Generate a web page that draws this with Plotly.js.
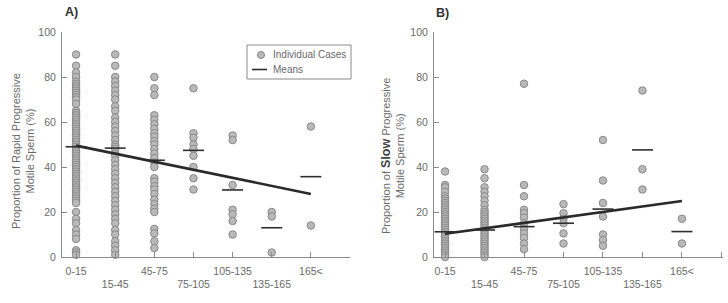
<!DOCTYPE html>
<html>
<head>
<meta charset="utf-8">
<script src="https://cdn.plot.ly/plotly-3.0.1.min.js"></script>
<style>
  html, body { margin: 0; padding: 0; background: #ffffff; }
  #chart { width: 728px; height: 303px; }
</style>
</head>
<body>
<div id="chart"></div>
<script>
// Abstinence period groups (hours)
const ageGroups = ['0-15', '15-45', '45-75', '75-105', '105-135', '135-165', '165<'];

// Individual cases, rapid progressive motility (%), one list per group
const rapidCases = [
  [90, 85, 82, 80, 78, 77, 76, 75, 74, 73, 72, 71, 70, 68, 65, 64, 63, 62, 61, 60, 59, 58, 57, 56, 55, 54, 53, 52, 51, 50, 49, 48, 47, 46, 45, 44, 43, 42, 41, 40, 39, 38, 37, 36, 35, 34, 33, 32, 31, 30, 29, 28, 27, 26, 25, 24, 20, 17, 15, 12, 10, 8, 3, 2, 1],
  [90, 85, 80, 78, 76, 74, 72, 70, 67, 65, 62, 60, 58, 56, 54, 52, 50, 49, 48, 46, 45, 43, 41, 39, 37, 35, 33, 31, 29, 27, 25, 23, 21, 19, 17, 15, 12, 10, 7, 5, 3, 1],
  [80, 75, 72, 63, 61, 59, 57, 55, 53.5, 51.5, 50, 48, 46, 44, 42, 40, 35, 33.5, 31.5, 30, 28, 25.5, 23.5, 21.5, 20, 12.5, 10.5, 7, 4],
  [75, 55, 53, 50, 48, 45, 40, 35, 30],
  [54, 52, 32, 21, 19, 16, 10],
  [20, 18, 2],
  [58, 14]
];
const rapidMeans = [49, 48.4, 43, 47.4, 29.8, 13, 35.7];
const rapidTrend = [49.5, 28];   // fitted value at first and last group

// Individual cases, slow progressive motility (%), one list per group
const slowCases = [
  [38, 32, 31, 29, 27, 26, 25, 24, 23, 22, 21, 20, 19, 18, 17, 16, 15, 14, 13, 12, 11, 10, 9, 8, 7, 6, 5, 4, 3, 2, 1, 0],
  [39, 35, 31, 29, 27, 25, 23, 21, 20, 19, 18, 17, 16, 15, 14, 13, 12, 11, 10, 9, 8, 7, 6, 5, 4, 3, 2, 1, 0],
  [77, 32, 27, 21, 19.5, 17.5, 15, 12.5, 10.5, 8.5, 6, 3.5],
  [23.5, 19.5, 17, 15, 10.5, 6],
  [52, 34, 24, 18, 10, 7.5, 5],
  [74, 39, 30],
  [17, 6]
];
const slowMeans = [11.2, 12, 13.5, 15, 21.3, 47.6, 11.3];
const slowTrend = [10.3, 24.9];

const yTicks = [0, 20, 40, 60, 80, 100];

const FONT = 'Liberation Sans, Arial, sans-serif';
const AXIS_GREY = '#8a8a8a';
const TEXT_GREY = '#6a6a6a';

function flatten(cases) {
  const xs = [], ys = [];
  cases.forEach((vals, i) => vals.forEach(v => { xs.push(i); ys.push(v); }));
  return { xs, ys };
}

function panelTraces(cases, means, trend, xa, ya) {
  const pts = flatten(cases);
  const idx = ageGroups.map((_, i) => i);
  return [
    {
      type: 'scatter', mode: 'markers', x: pts.xs, y: pts.ys, xaxis: xa, yaxis: ya,
      cliponaxis: false, hoverinfo: 'skip',
      marker: { symbol: 'circle', size: 7.5, color: '#b9b9b9', line: { color: '#888888', width: 1 } }
    },
    {
      type: 'scatter', mode: 'markers', x: idx, y: means, xaxis: xa, yaxis: ya,
      cliponaxis: false, hoverinfo: 'skip',
      marker: { symbol: 'line-ew', size: 15, line: { color: '#2e2e2e', width: 1.6 } }
    },
    {
      type: 'scatter', mode: 'lines', x: [idx[0], idx[idx.length - 1]], y: trend, xaxis: xa, yaxis: ya,
      cliponaxis: false, hoverinfo: 'skip',
      line: { color: '#2a2a2a', width: 2.6 }
    }
  ];
}

// x tick labels alternate between two rows
const tickIdx = ageGroups.map((_, i) => i).concat([ageGroups.length]);
const tickText = ageGroups.map((g, i) => (i % 2 ? '<br>' + g : g)).concat(['']);

function xAxis(domain, range) {
  return {
    domain, range, tickmode: 'array', tickvals: tickIdx, ticktext: tickText,
    tickangle: 0,
    ticks: 'inside', ticklen: 5, tickwidth: 1, tickcolor: AXIS_GREY,
    showline: true, linecolor: AXIS_GREY, linewidth: 1,
    showgrid: false, zeroline: false, fixedrange: true,
    tickfont: { family: FONT, size: 10.5, color: TEXT_GREY },
    ticklabelstandoff: 4
  };
}

function yAxis(anchor) {
  return {
    anchor, domain: [1 - 257 / 303, 1 - 32 / 303], range: [0, 100],
    tickmode: 'array', tickvals: yTicks,
    ticks: 'inside', ticklen: 5, tickwidth: 1, tickcolor: AXIS_GREY,
    showline: true, linecolor: AXIS_GREY, linewidth: 1,
    showgrid: false, zeroline: false, fixedrange: true,
    tickfont: { family: FONT, size: 10.5, color: TEXT_GREY },
    ticklabelstandoff: 3
  };
}

const px = v => v / 728;
const py = v => 1 - v / 303;

const data = []
  .concat(panelTraces(rapidCases, rapidMeans, rapidTrend, 'x', 'y'))
  .concat(panelTraces(slowCases, slowMeans, slowTrend, 'x2', 'y2'));

const layout = {
  width: 728, height: 303,
  margin: { l: 0, r: 0, t: 0, b: 0 },
  paper_bgcolor: '#ffffff', plot_bgcolor: '#ffffff',
  showlegend: false,
  font: { family: FONT, color: TEXT_GREY },
  xaxis: Object.assign(xAxis([px(62), px(350)], [-0.36, 7]), { anchor: 'y' }),
  yaxis: yAxis('x'),
  xaxis2: Object.assign(xAxis([px(434), px(723)], [-0.28, 7.04]), { anchor: 'y2' }),
  yaxis2: yAxis('x2'),
  shapes: [
    // key box
    { type: 'rect', xref: 'paper', yref: 'paper', x0: px(247), x1: px(351), y0: py(79), y1: py(45),
      line: { color: '#8a8a8a', width: 1 }, fillcolor: 'rgba(0,0,0,0)' },
    { type: 'circle', xref: 'paper', yref: 'paper', x0: px(257.5), x1: px(264.5), y0: py(58.5), y1: py(51.5),
      line: { color: '#888888', width: 1 }, fillcolor: '#b9b9b9' },
    { type: 'line', xref: 'paper', yref: 'paper', x0: px(252), x1: px(267), y0: py(69.5), y1: py(69.5),
      line: { color: '#2e2e2e', width: 1.6 } }
  ],
  annotations: [
    { text: '<b>A)</b>', xref: 'paper', yref: 'paper', x: px(63), y: py(12), xanchor: 'left', yanchor: 'middle',
      showarrow: false, font: { family: FONT, size: 12.5, color: '#333333' } },
    { text: '<b>B)</b>', xref: 'paper', yref: 'paper', x: px(434), y: py(13), xanchor: 'left', yanchor: 'middle',
      showarrow: false, font: { family: FONT, size: 12.5, color: '#333333' } },
    { text: 'Proportion of Rapid Progressive<br>Motile Sperm (%)', xref: 'paper', yref: 'paper',
      x: px(23), y: py(151), xanchor: 'center', yanchor: 'middle', textangle: -90, showarrow: false,
      font: { family: FONT, size: 11, color: TEXT_GREY } },
    { text: 'Proportion of <span style="font-size:12.5px;color:#444444"><b>Slow</b></span> Progressive<br>Motile Sperm (%)',
      xref: 'paper', yref: 'paper',
      x: px(392), y: py(156), xanchor: 'center', yanchor: 'middle', textangle: -90, showarrow: false,
      font: { family: FONT, size: 11, color: TEXT_GREY } },
    { text: 'Individual Cases', xref: 'paper', yref: 'paper', x: px(271), y: py(55), xanchor: 'left', yanchor: 'middle',
      showarrow: false, font: { family: FONT, size: 10, color: TEXT_GREY } },
    { text: 'Means', xref: 'paper', yref: 'paper', x: px(271), y: py(69.5), xanchor: 'left', yanchor: 'middle',
      showarrow: false, font: { family: FONT, size: 10, color: TEXT_GREY } }
  ]
};

Plotly.newPlot('chart', data, layout, { staticPlot: true, displayModeBar: false });
</script>
</body>
</html>
